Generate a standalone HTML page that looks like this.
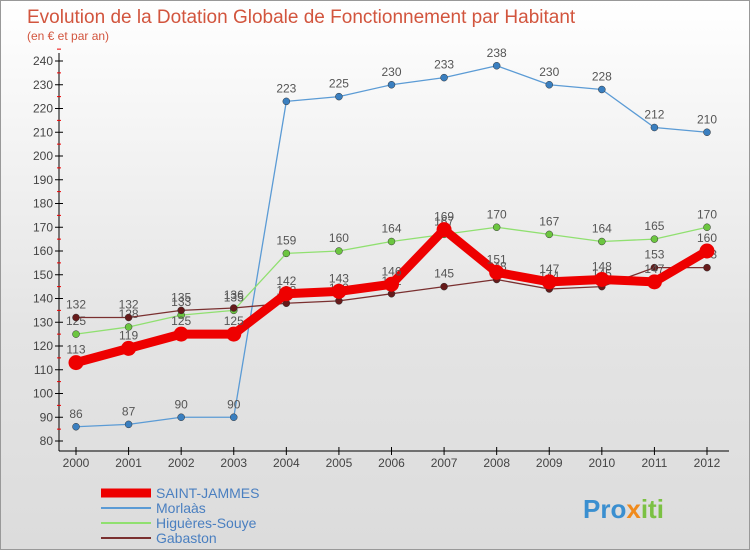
<!DOCTYPE html>
<html><head><meta charset="utf-8"><style>
body{margin:0;width:750px;height:550px;overflow:hidden;font-family:"Liberation Sans",sans-serif;}
#wrap{position:relative;width:748px;height:548px;border:1px solid #999;background:linear-gradient(#fff,#e4e4e4 60%,#dcdcdc);}
</style></head><body>
<div id="wrap">
<svg id="chart" width="748" height="548" xmlns="http://www.w3.org/2000/svg">
<text x="26" y="22" font-size="19" fill="#d2553e">Evolution de la Dotation Globale de Fonctionnement par Habitant</text>
<text x="26" y="39" font-size="12" fill="#d2553e">(en € et par an)</text>
<g id="grid"></g><g id="axes"></g><g id="series"></g><g id="legend"></g>
<text x="582" y="517" font-size="26" font-weight="bold" fill="#3a8fd0">Pro<tspan fill="#f08a1c">x</tspan><tspan fill="#7bc143">iti</tspan></text>
</svg></div>
<script>
const years=["2000","2001","2002","2003","2004","2005","2006","2007","2008","2009","2010","2011","2012"];
const saintJammes=[113,119,125,125,142,143,146,169,151,147,148,147,160];
const morlaas=[86,87,90,90,223,225,230,233,238,230,228,212,210];
const higueres=[125,128,133,135,159,160,164,167,170,167,164,165,170];
const gabaston=[132,132,135,136,138,139,142,145,148,144,145,153,153];
const yTicks=[80,90,100,110,120,130,140,150,160,170,180,190,200,210,220,230,240];
const NS="http://www.w3.org/2000/svg";
const x=i=>75+i*(631/12);
const y=v=>440-(v-80)*(380/160);
function mk(t,a,p){const e=document.createElementNS(NS,t);for(const k in a)e.setAttribute(k,a[k]);p.appendChild(e);return e;}
const ax=document.getElementById('axes');
let l=mk('line',{x1:58,y1:52,x2:58,y2:450,stroke:'#000'},ax);

l=mk('line',{x1:58,y1:450,x2:728,y2:450,stroke:'#000'},ax);

yTicks.forEach(v=>{
 mk('line',{x1:54,y1:y(v),x2:62,y2:y(v),stroke:'#000'},ax);
 mk('line',{x1:56,y1:y(v+5),x2:60,y2:y(v+5),stroke:'#e00'},ax);
 const t=mk('text',{x:52,y:y(v)+4,'font-size':12,'text-anchor':'end',fill:'#444'},ax);t.textContent=v;
 
});
years.forEach((yr,i)=>{
 mk('line',{x1:x(i),y1:446,x2:x(i),y2:454,stroke:'#000'},ax);
 const t=mk('text',{x:x(i),y:466,'font-size':12,'text-anchor':'middle',fill:'#444'},ax);t.textContent=yr;
 
});
const series=[
 {name:'morlaas',data:morlaas,c:'#5b9bd5',pt:'#3a7fc0',w:1.3,r:3.5},
 {name:'higueres-souye',data:higueres,c:'#90e070',pt:'#6cc640',w:1.3,r:3.5},
 {name:'gabaston',data:gabaston,c:'#7a3030',pt:'#661a1a',w:1.3,r:3.5},
 {name:'saint-jammes',data:saintJammes,c:'#ee0000',pt:'#ee0000',w:9,r:7.5}];
const sg=document.getElementById('series');
series.forEach(s=>{
 const g=mk('g',{},sg);
 
 const p=mk('polyline',{points:s.data.map((v,i)=>x(i)+','+y(v)).join(' '),fill:'none',stroke:s.c,'stroke-width':s.w,'stroke-linejoin':'round'},g);
 
 s.data.forEach((v,i)=>{
  const c=mk('circle',{cx:x(i),cy:y(v),r:s.r,fill:s.pt,stroke:s.w>2?'none':'#333','stroke-width':0.5},g);
  
  const t=mk('text',{x:x(i),y:y(v)-9,'font-size':12,'text-anchor':'middle',fill:'#555'},g);t.textContent=v;
  
 });
});
const lg=document.getElementById('legend');
const leg=[['SAINT-JAMMES','#ee0000',9],['Morlaàs','#5b9bd5',2],['Higuères-Souye','#90e070',2],['Gabaston','#7a3030',2]];
leg.forEach((e,i)=>{
 const yy=492+i*15;
 const g=mk('g',{},lg);
 
 mk('line',{x1:100,y1:yy,x2:150,y2:yy,stroke:e[1],'stroke-width':e[2]},g);
 const t=mk('text',{x:155,y:yy+5,'font-size':14,fill:'#4a7fc0'},g);t.textContent=e[0];
});
</script>
</body></html>
